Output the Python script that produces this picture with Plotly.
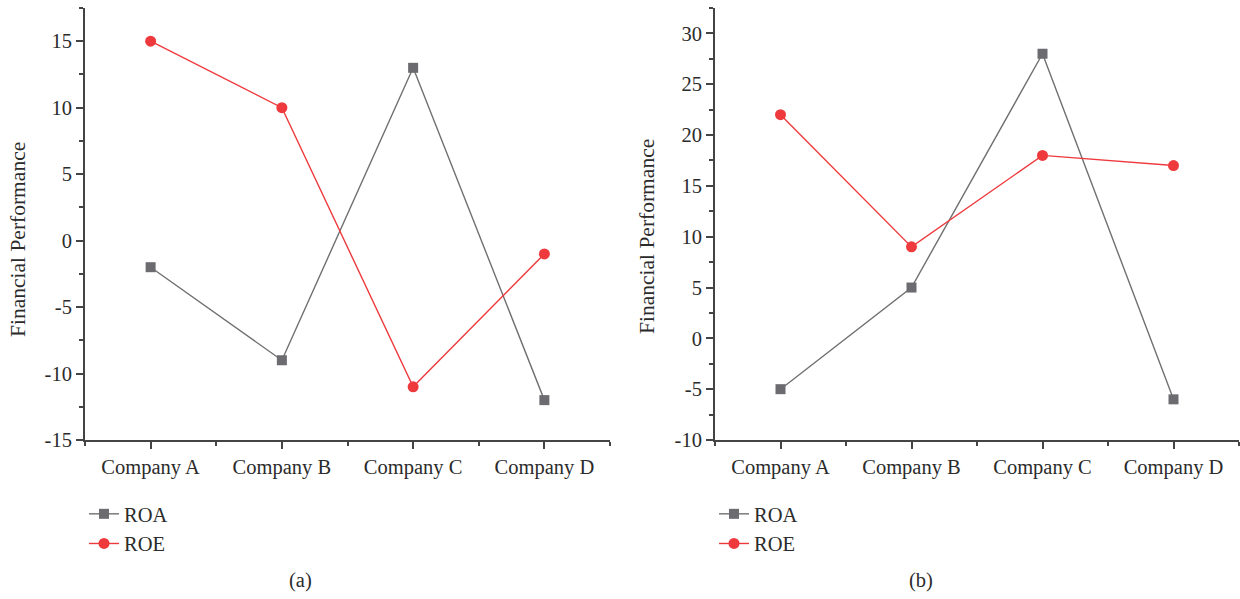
import plotly.graph_objects as go
from plotly.subplots import make_subplots

companies = ["Company A", "Company B", "Company C", "Company D"]
roa_a = [-2, -9, 13, -12]
roe_a = [15, 10, -11, -1]
roa_b = [-5, 5, 28, -6]
roe_b = [22, 9, 18, 17]
yticks_a = [-15, -10, -5, 0, 5, 10, 15]
yticks_b = [-10, -5, 0, 5, 10, 15, 20, 25, 30]
y_title = "Financial Performance"
panel_labels = ["(a)", "(b)"]

GRAY = "#6b6b70"
GRAY_LINE = "#707070"
RED = "#ee3a3d"
FONT = "Liberation Serif"
AXIS = "#444444"
TXT = "#2b2b2b"
FS = 20.5

x_idx = list(range(len(companies)))

fig = make_subplots(rows=1, cols=2)

def add_panel(col, roa, roe, legend):
    fig.add_trace(go.Scatter(x=x_idx, y=roa, name="ROA", mode="lines+markers",
                             line=dict(color=GRAY_LINE, width=1.4),
                             marker=dict(symbol="square", size=10, color=GRAY),
                             legend=legend), row=1, col=col)
    fig.add_trace(go.Scatter(x=x_idx, y=roe, name="ROE", mode="lines+markers",
                             line=dict(color=RED, width=1.4),
                             marker=dict(symbol="circle", size=11, color=RED),
                             legend=legend), row=1, col=col)

add_panel(1, roa_a, roe_a, "legend")
add_panel(2, roa_b, roe_b, "legend2")

W, H = 1240, 599
def px_x(p):
    return p / W
def px_y(p):
    return (H - p) / H

axis_common = dict(showgrid=False, zeroline=False, showline=True, linecolor=AXIS, linewidth=2,
                   ticks="outside", tickcolor=AXIS, tickwidth=1.5, automargin=False,
                   tickfont=dict(family=FONT, size=FS, color=TXT))

fig.update_xaxes(**axis_common, range=[-0.5, 3.5], tickmode="array", tickvals=x_idx,
                 ticktext=companies, ticklen=7,
                 minor=dict(tickmode="array", tickvals=[-0.5, 0.5, 1.5, 2.5, 3.5],
                            ticks="outside", ticklen=4, tickcolor=AXIS, tickwidth=1.5))
fig.update_xaxes(domain=[px_x(85), px_x(610)], row=1, col=1)
fig.update_xaxes(domain=[px_x(715), px_x(1239)], row=1, col=2)

fig.update_yaxes(**axis_common, ticklen=7, domain=[px_y(440), px_y(8)])
fig.update_yaxes(range=[-15, 17.5], tickmode="array", tickvals=yticks_a,
                 ticktext=[str(v) for v in yticks_a],
                 minor=dict(dtick=2.5, tick0=0, ticks="outside", ticklen=4, tickcolor=AXIS, tickwidth=1.5),
                 row=1, col=1)
fig.update_yaxes(range=[-10, 32.5], tickmode="array", tickvals=yticks_b,
                 ticktext=[str(v) for v in yticks_b],
                 minor=dict(dtick=2.5, tick0=0, ticks="outside", ticklen=4, tickcolor=AXIS, tickwidth=1.5),
                 row=1, col=2)

def ann(text, x, y, size=FS, angle=0):
    return dict(text=text, x=px_x(x), y=px_y(y), xref="paper", yref="paper", showarrow=False,
                xanchor="center", yanchor="middle", textangle=angle,
                font=dict(family=FONT, size=size, color=TXT))

legend_style = dict(font=dict(family=FONT, size=FS, color=TXT), bgcolor="rgba(0,0,0,0)",
                    xanchor="left", yanchor="top", tracegroupgap=0, itemwidth=30)
fig.update_layout(
    width=W, height=H,
    margin=dict(l=0, r=0, t=0, b=0, autoexpand=False),
    plot_bgcolor="white", paper_bgcolor="white",
    legend=dict(x=px_x(84), y=px_y(494), **legend_style),
    legend2=dict(x=px_x(714), y=px_y(494), **legend_style),
    annotations=[
        ann(y_title, 18, 240, 21.5, -90),
        ann(y_title, 647, 237, 21.5, -90),
        ann(panel_labels[0], 300, 580),
        ann(panel_labels[1], 921, 580),
    ],
)

fig.write_html("out.html", config={"displayModeBar": False},
               post_script="document.body.style.margin='0';document.body.style.overflow='hidden';")
